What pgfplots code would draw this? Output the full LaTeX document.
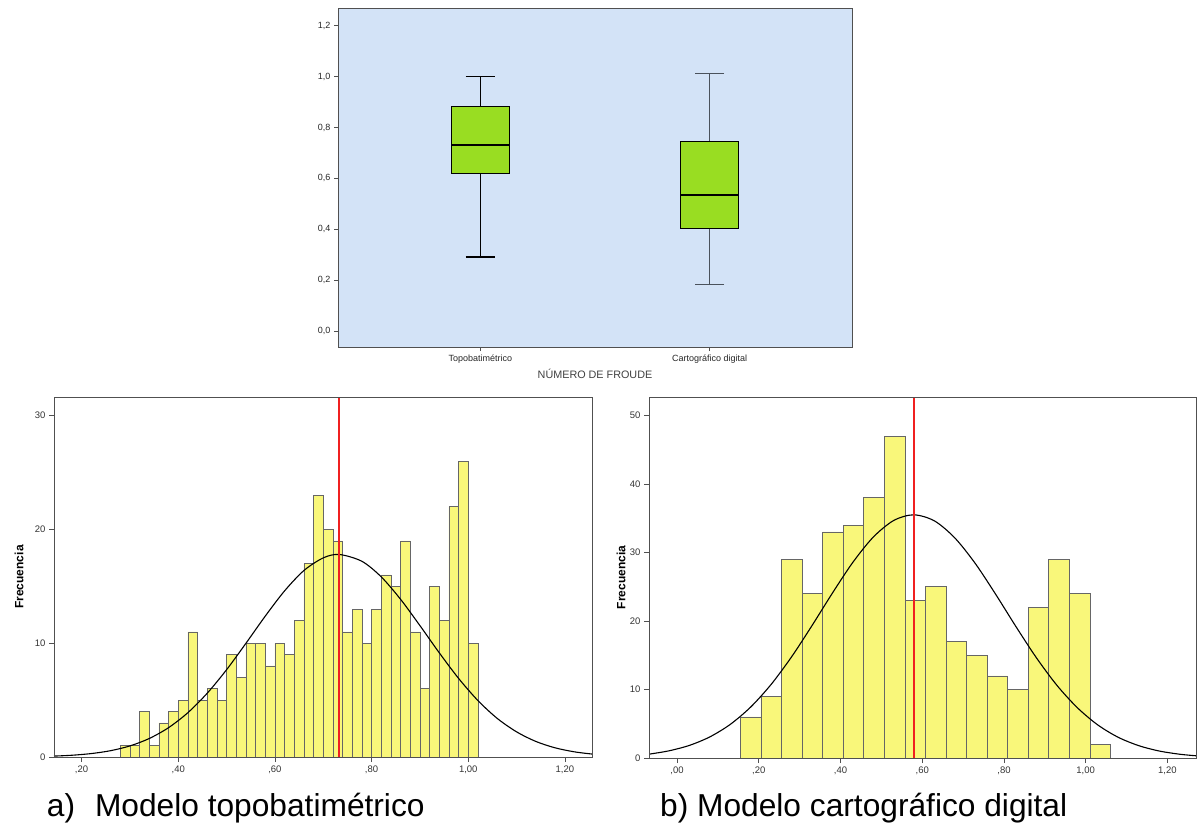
\documentclass[border=0pt]{standalone}
\usepackage{fontspec}
\setmainfont{Liberation Sans}
\usepackage{pgfplots}
\usepackage{pgfplotstable}
\pgfplotsset{compat=1.18}
\usepgfplotslibrary{statistics}
\definecolor{bgblue}{HTML}{D3E3F7}
\definecolor{boxgreen}{HTML}{99DD22}
\definecolor{baryellow}{HTML}{F9F77A}
\definecolor{framegray}{HTML}{505050}
\definecolor{meanred}{HTML}{F02020}
\definecolor{slategray}{HTML}{4A525C}

\pgfplotstableread{
x y
0.28 1
0.30 1
0.32 4
0.34 1
0.36 3
0.38 4
0.40 5
0.42 11
0.44 5
0.46 6
0.48 5
0.50 9
0.52 7
0.54 10
0.56 10
0.58 8
0.60 10
0.62 9
0.64 12
0.66 17
0.68 23
0.70 20
0.72 19
0.74 11
0.76 13
0.78 10
0.80 13
0.82 16
0.84 15
0.86 19
0.88 11
0.90 6
0.92 15
0.94 12
0.96 22
0.98 26
1.00 10
1.02 10
}\histA

\pgfplotstableread{
x y
0.1550 6
0.2053 9
0.2556 29
0.3059 24
0.3562 33
0.4065 34
0.4568 38
0.5071 47
0.5574 23
0.6077 25
0.6580 17
0.7083 15
0.7586 12
0.8089 10
0.8592 22
0.9095 29
0.9598 24
1.0101 2
1.0604 2
}\histB

\pgfplotsset{
  histstyle/.style={
    scale only axis, anchor=south west,
    axis on top,
    axis line style={framegray, line width=0.9pt},
    tick align=outside, tick pos=left, major tick length=5pt,
    tick style={framegray, line width=0.8pt},
    ticklabel style={font=\fontsize{9.5}{11}\selectfont, text=black!80},
    ylabel={Frecuencia},
    ylabel style={font=\bfseries\fontsize{12}{14}\selectfont, anchor=center},
  },
}

\begin{document}
\begin{tikzpicture}
\useasboundingbox (0,0) rectangle (1201pt,823pt);

% ---------------- Boxplot ----------------
\begin{axis}[
  at={(338pt,476pt)}, anchor=south west, scale only axis,
  width=514pt, height=339pt,
  xmin=0.38, xmax=2.62, ymin=-0.063, ymax=1.2695,
  axis background/.style={fill=bgblue},
  axis line style={framegray, line width=0.9pt},
  tick align=outside, tick pos=left, major tick length=4pt,
  tick style={framegray, line width=0.8pt},
  xtick={1,2}, xticklabels={Topobatimétrico, Cartográfico digital},
  ytick={0,0.2,0.4,0.6,0.8,1.0,1.2},
  yticklabels={{0,0},{0,2},{0,4},{0,6},{0,8},{1,0},{1,2}},
  ticklabel style={font=\fontsize{9}{10}\selectfont, text=black!85},
  xlabel={NÚMERO DE FROUDE},
  xlabel style={font=\fontsize{10.8}{12}\selectfont, text=black!75,
    at={(axis description cs:0.5,-0.078)}, anchor=center},
  boxplot/draw direction=y,
]
\addplot[draw=black, line width=1.1pt, fill=boxgreen,
  boxplot prepared={draw position=1, lower whisker=0.291, lower quartile=0.618,
    median=0.732, upper quartile=0.881, upper whisker=1.0,
    box extend=0.252, whisker extend=0.126,
    every median/.style={line width=1.8pt, black},
    every whisker/.style={line width=1.4pt, black}}]
  coordinates {};
\addplot[draw=black, line width=1.1pt, fill=boxgreen,
  boxplot prepared={draw position=2, lower whisker=0.182, lower quartile=0.402,
    median=0.533, upper quartile=0.746, upper whisker=1.012,
    box extend=0.252, whisker extend=0.126,
    every median/.style={line width=1.8pt, black},
    every whisker/.style={line width=1.4pt, slategray}}]
  coordinates {};
\end{axis}

% ---------------- Histogram a ----------------
\begin{axis}[histstyle,
  at={(54pt,66pt)}, width=538pt, height=360pt,
  xmin=0.143, xmax=1.256, ymin=0, ymax=31.64,
  xtick={0.2,0.4,0.6,0.8,1.0,1.2},
  xticklabels={{,20},{,40},{,60},{,80},{1,00},{1,20}},
  ytick={0,10,20,30}, yticklabels={0,10,20,30},
  ylabel style={at={(axis description cs:-0.065,0.5)}},
]
\addplot[ybar interval, fill=baryellow, draw=black!60, line width=0.6pt] table[x=x,y=y] {\histA};
\addplot[black, line width=1.1pt, smooth] coordinates {
(0.143,0.08) (0.18,0.155) (0.22,0.301) (0.26,0.555) (0.30,0.973) (0.34,1.625)
(0.38,2.579) (0.42,3.897) (0.46,5.607) (0.50,7.671) (0.54,9.99) (0.58,12.38)
(0.62,14.60) (0.66,16.39) (0.70,17.50) (0.733,17.8) (0.78,17.20) (0.82,15.83)
(0.86,13.86) (0.90,11.55) (0.94,9.16) (0.98,6.91) (1.02,4.96) (1.06,3.39)
(1.10,2.21) (1.14,1.365) (1.18,0.803) (1.22,0.451) (1.256,0.26)};
\addplot[draw=meanred, color=meanred, line width=1.8pt] coordinates {(0.733,0) (0.733,31.64)};
\end{axis}

% ---------------- Histogram b ----------------
\begin{axis}[histstyle,
  at={(649pt,65pt)}, width=547pt, height=361pt,
  xmin=-0.0687, xmax=1.270, ymin=0, ymax=52.7,
  xtick={0,0.2,0.4,0.6,0.8,1.0,1.2},
  xticklabels={{,00},{,20},{,40},{,60},{,80},{1,00},{1,20}},
  ytick={0,10,20,30,40,50}, yticklabels={0,10,20,30,40,50},
  ylabel style={at={(axis description cs:-0.051,0.5)}},
]
\addplot[ybar interval, fill=baryellow, draw=black!60, line width=0.6pt] table[x=x,y=y] {\histB};
\addplot[black, line width=1.1pt, smooth] coordinates {
(-0.0687,0.56) (-0.02,1.046) (0.03,1.838) (0.08,3.076) (0.13,4.90) (0.18,7.43)
(0.23,10.73) (0.28,14.75) (0.33,19.31) (0.38,24.06) (0.43,28.55) (0.48,32.24)
(0.53,34.67) (0.579,35.5) (0.63,34.61) (0.68,32.11) (0.73,28.38) (0.78,23.87)
(0.83,19.12) (0.88,14.58) (0.93,10.58) (0.98,7.32) (1.03,4.81) (1.08,3.01)
(1.13,1.80) (1.18,1.02) (1.23,0.552) (1.27,0.326)};
\addplot[draw=meanred, color=meanred, line width=1.8pt] coordinates {(0.579,0) (0.579,52.7)};
\end{axis}

% ---------------- Captions ----------------
\node[anchor=base west, inner sep=0pt, font=\fontsize{31.7}{36}\selectfont]
  at (46.7pt,7pt) {a)\hspace{20pt}Modelo topobatimétrico};
\node[anchor=base west, inner sep=0pt, font=\fontsize{31.7}{36}\selectfont]
  at (660pt,7pt) {b) Modelo cartográfico digital};
\end{tikzpicture}
\end{document}
